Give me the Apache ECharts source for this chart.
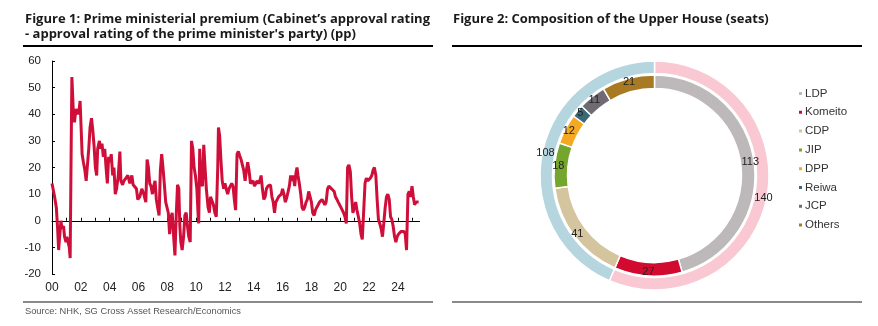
<!DOCTYPE html>
<html><head><meta charset="utf-8">
<script src="https://cdn.jsdelivr.net/npm/echarts@6/dist/echarts.min.js"></script>
<style>html,body{margin:0;padding:0;background:#fff}#c{width:878px;height:326px}</style>
</head><body><div id="c"></div>
<script>
// ---- Figure 1 data: prime ministerial premium (pp) ----
const premiumYears = [
2000.00,2000.18,2000.30,2000.39,2000.46,2000.53,2000.62,2000.69,2000.80,2000.87,2000.97,
2001.03,2001.10,2001.20,2001.26,2001.33,2001.38,2001.45,2001.49,2001.56,2001.66,2001.77,2001.89,2001.95,
2002.02,2002.09,2002.18,2002.28,2002.37,2002.46,2002.55,2002.64,2002.74,2002.83,2002.92,
2003.01,2003.10,2003.17,2003.29,2003.38,2003.47,2003.56,2003.66,2003.75,2003.84,2003.93,
2004.02,2004.11,2004.21,2004.30,2004.39,2004.48,2004.60,2004.71,2004.78,2004.90,2004.99,
2005.13,2005.26,2005.40,2005.54,2005.63,2005.72,2005.86,2005.95,
2006.09,2006.23,2006.37,2006.51,2006.60,2006.69,2006.78,2006.87,2006.97,
2007.06,2007.15,2007.24,2007.33,2007.43,2007.52,2007.61,2007.70,2007.79,2007.89,2007.98,
2008.07,2008.16,2008.25,2008.34,2008.44,2008.53,2008.62,2008.71,2008.80,2008.87,2008.94,
2009.03,2009.13,2009.22,2009.31,2009.40,2009.49,2009.59,2009.68,2009.77,2009.86,2009.95,
2010.05,2010.14,2010.18,2010.25,2010.34,2010.44,2010.53,2010.62,2010.71,2010.83,2010.92,
2011.00,2011.10,2011.20,2011.30,2011.40,2011.50,2011.55,2011.63,2011.72,2011.81,2011.91,
2012.00,2012.09,2012.19,2012.28,2012.37,2012.47,2012.56,2012.65,2012.74,2012.84,2012.93,
2013.02,2013.12,2013.21,2013.30,2013.40,2013.49,2013.58,2013.67,2013.77,2013.86,2013.95,
2014.05,2014.14,2014.23,2014.33,2014.42,2014.51,2014.60,2014.70,2014.79,2014.88,2014.98,
2015.07,2015.16,2015.26,2015.35,2015.44,2015.53,2015.63,2015.72,2015.81,2015.91,
2016.00,2016.09,2016.19,2016.28,2016.37,2016.47,2016.56,2016.65,2016.74,2016.84,2016.93,
2017.00,2017.07,2017.16,2017.26,2017.35,2017.44,2017.53,2017.63,2017.72,2017.81,2017.91,
2018.00,2018.09,2018.19,2018.28,2018.37,2018.47,2018.56,2018.65,2018.74,2018.84,2018.93,
2019.02,2019.12,2019.21,2019.30,2019.40,2019.49,2019.58,2019.67,2019.77,2019.86,2019.95,
2020.05,2020.14,2020.23,2020.33,2020.42,2020.51,2020.60,2020.70,2020.79,2020.88,2020.98,
2021.07,2021.16,2021.26,2021.35,2021.44,2021.53,2021.63,2021.72,2021.81,2021.91,
2022.00,2022.09,2022.19,2022.28,2022.37,2022.47,2022.56,2022.65,2022.74,2022.84,2022.93,
2023.02,2023.12,2023.21,2023.30,2023.40,2023.49,2023.58,2023.67,2023.77,2023.86,2023.95,
2024.05,2024.14,2024.23,2024.33,2024.42,2024.51,2024.60,2024.70,2024.79,2024.88,2024.98,
2025.07,2025.16,2025.26,2025.35,2025.44
];
const premiumValues = [
14,9,5,-3,-11,-6,0,-3,-2,-6,-8,
-6,-6,-10,-14,27,54,45,39,37,42,40,42,45,
35,25,22,19,15,15,27,35,38.5,34,28,
20,17,27,30,27,29,24,27,20,14,24,
22,25,17,20,10,12,17,26,15,13.5,15,
16,17,14,17,13.5,14,12,8,
9,12,10,7,23,20,14,13,10,
13,15,8,5,2,19,25,20,14,7,5,
3,-5,1,3,-6,-13,2,13.5,12,-2,-8,
-11,-6,2,3,-2,-6,-8,30,27,20,17,
12,2,-1,27,14,13,28.5,20,12,5,3,
9,9,6,3,1.5,20,35,32,23,15,12,
14,12,10,12,13,14,13,8,4,25,26,
24.5,23,21,19,15,19,22,19,14,13.5,15,
13,14,15,14,15,17,12,8,9,12,13,
13,13.5,9,7,3,7,8,9,9,10,
12,10,7,8.5,8,13,17,15,17,13,18,
20,17,14,10,5,4,5,7,8,11,9,
7,3,2,4,5,6,7,7,8,7,6,
7,12,13,13,12,12,11,9,8,7,7,
5,4,3,1.5,-1,20,21,18.5,9,3,3.5,
7,4,1.5,-1,-5,-7,4,14,16,15,
15,16,17,19,20,17,8,0.5,-1,-3,-6,
-1,5,9,10,8,1.5,0.5,-2,-6,-8,-6,
-5,-5,-4,-4,-4,-5,-11,10,11,9,13,
9,6,7,7,7
];
const xLabelYears = [2000,2002,2004,2006,2008,2010,2012,2014,2016,2018,2020,2022,2024];
const xTickYears = [2000,2001,2002,2003,2004,2005,2006,2007,2008,2009,2010,2011,2012,2013,2014,2015,2016,2017,2018,2019,2020,2021,2022,2023,2024,2025];

// ---- Figure 2 data: composition of the Upper House (seats) ----
const parties = ['LDP','Komeito','CDP','JIP','DPP','Reiwa','JCP','Others'];
const seats = [113,27,41,18,12,5,11,21];
const blocs = ['LDP + Komeito','Other parties'];
const blocSeats = [140,108];

// ---- styles ----
const partyColors = ['#bdb8b9','#d20a30','#d5c59e','#74a52c','#f5a923','#3a6875','#706b72','#a97a24'];
const blocColors = ['#f9c8d2','#b5d5df'];
const lineColor = '#cf0f3a';

const chart = echarts.init(document.getElementById('c'), null, {renderer:'canvas'});
const titleFont = 'bold 13px "Open Sans"';
const axisFont = 'Liberation Sans';

chart.setOption({
  animation:false,
  grid:{left:52, top:61, width:367.5, height:213, containLabel:false},
  xAxis:[
    {type:'value', min:2000, max:2025.5, interval:1, position:'bottom',
     axisLine:{show:false, onZero:false}, axisTick:{show:false}, splitLine:{show:false},
     axisLabel:{customValues:xLabelYears, formatter:v=>String(v).slice(2), fontSize:12, color:'#222', margin:8, fontFamily:axisFont}},
    {type:'value', min:2000, max:2025.5, interval:1, position:'bottom',
     axisLine:{show:true, onZero:true, lineStyle:{color:'#000', width:1}},
     axisTick:{show:true, inside:true, length:3, customValues:xTickYears, lineStyle:{color:'#000'}},
     axisLabel:{show:false}, splitLine:{show:false}}
  ],
  yAxis:{type:'value', min:-20, max:60, interval:10,
    axisLine:{show:true, onZero:false, lineStyle:{color:'#000', width:1}},
    axisTick:{show:true, inside:true, length:3, lineStyle:{color:'#000'}},
    axisLabel:{fontSize:11.5, color:'#222', margin:11, fontFamily:axisFont},
    splitLine:{show:false}},
  legend:{orient:'vertical', left:792, top:82.5, icon:'rect', itemWidth:5, itemHeight:5, itemGap:6.8,
    selectedMode:false, data:parties,
    textStyle:{fontSize:11.5, color:'#333', fontFamily:axisFont, padding:[0,0,0,-3]}},
  series:[
    {type:'line', xAxisIndex:0, yAxisIndex:0, showSymbol:false, silent:true, z:5,
     data:premiumYears.map((y,i)=>[y, premiumValues[i]]),
     lineStyle:{color:lineColor, width:3}},
    {type:'pie', radius:[87,100.5], center:[654.5,175.5], startAngle:90, clockwise:true,
     silent:true, avoidLabelOverlap:false,
     data:parties.map((p,i)=>({name:p, value:seats[i], itemStyle:{color:partyColors[i]}})),
     itemStyle:{borderColor:'#fff', borderWidth:1.5},
     label:{show:true, position:'inside', formatter:'{c}', fontSize:11, color:'#222', fontFamily:axisFont},
     labelLine:{show:false}},
    {type:'pie', radius:[102,114.5], center:[654.5,175.5], startAngle:90, clockwise:true,
     silent:true, avoidLabelOverlap:false,
     data:blocs.map((b,i)=>({name:b, value:blocSeats[i], itemStyle:{color:blocColors[i]}})),
     itemStyle:{borderColor:'#fff', borderWidth:1.5},
     label:{show:true, position:'inside', formatter:'{c}', fontSize:11, color:'#222', fontFamily:axisFont},
     labelLine:{show:false}}
  ],
  graphic:[
    {type:'text', x:25, y:19, silent:true, style:{text:'Figure 1: Prime ministerial premium (Cabinet\u2019s approval rating', font:titleFont, fill:'#1a1a1a', verticalAlign:'middle'}},
    {type:'text', x:25, y:34, silent:true, style:{text:"- approval rating of the prime minister's party) (pp)", font:titleFont, fill:'#1a1a1a', verticalAlign:'middle'}},
    {type:'text', x:453, y:19, silent:true, style:{text:'Figure 2: Composition of the Upper House (seats)', font:titleFont, fill:'#1a1a1a', verticalAlign:'middle'}},
    {type:'line', silent:true, shape:{x1:23, y1:46, x2:433, y2:46}, style:{stroke:'#000', lineWidth:2}},
    {type:'line', silent:true, shape:{x1:452, y1:46, x2:862, y2:46}, style:{stroke:'#000', lineWidth:2}},
    {type:'line', silent:true, shape:{x1:23, y1:302, x2:433, y2:302}, style:{stroke:'#8a8a8a', lineWidth:2}},
    {type:'line', silent:true, shape:{x1:452, y1:302, x2:862, y2:302}, style:{stroke:'#8a8a8a', lineWidth:2}},
    {type:'text', x:25, y:311, silent:true, style:{text:'Source: NHK, SG Cross Asset Research/Economics', font:'9.3px Liberation Sans', fill:'#555', verticalAlign:'middle'}}
  ]
});
</script>
</body></html>
